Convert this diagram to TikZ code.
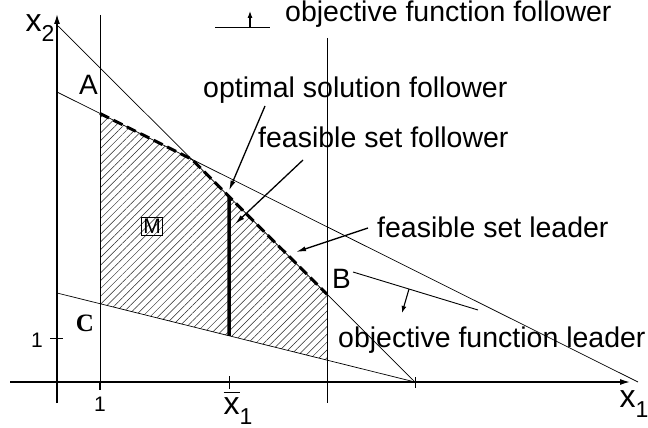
\documentclass[tikz,border=0pt]{standalone}
\usepackage{fontspec}
\setmainfont{Liberation Sans}
\newfontfamily\serifont{Liberation Serif}
\usepackage{tikz}
\usetikzlibrary{
    arrows.meta,
    calc,
    patterns.meta
}
\tikzset
{
  thinline/.style={draw=black,line width=0.7pt},
  axisline/.style={draw=black,line width=1.4pt,-{Latex[length=10pt,width=6pt]}},
  pointer/.style={draw=black,line width=1.3pt,-{Latex[length=10pt,width=5pt]}},
  smallpointer/.style={draw=black,line width=1.1pt,-{Latex[length=7pt,width=5pt]}},
  bigtext/.style={font=\fontsize{28.5}{30}\selectfont,inner sep=0pt,anchor=base west},
  pointtext/.style={font=\fontsize{28}{30}\selectfont,inner sep=0pt,anchor=base west},
  ticktext/.style={font=\fontsize{21}{23}\selectfont,inner sep=0pt},
  varsub/.style={font=\fontsize{32}{34}\selectfont,inner sep=0pt}
}
\newcommand{\lowsub}[1]{\raisebox{-0.3em}{\fontsize{23}{25}\selectfont #1}}
\newcommand{\barx}{\makebox[0pt][l]{\raisebox{0.68em}{\rule{0.5em}{1.3pt}}}x}

\begin{document}
\begin{tikzpicture}[x=1pt,y=-1pt]

    % Fix the page to the size of the picture
    \useasboundingbox (0,0) rectangle (648,428);

    % Define the positions of the vertical lines
    \pgfmathsetmacro{\xone}{100}   % x_1 = 1
    \pgfmathsetmacro{\xbar}{229}   % the fixed leader decision
    \pgfmathsetmacro{\xright}{327} % right bound of the leader set

    % The three constraint lines
    \coordinate (L1s) at (57,25);  \coordinate (L1e) at (415,382);
    \coordinate (L2s) at (57,92);  \coordinate (L2e) at (638,382);
    \coordinate (L3s) at (57,293); \coordinate (L3e) at (415,382);

    % Corners of the feasible set
    \coordinate (A) at (intersection of L2s--L2e and \xone,0--\xone,400);
    \coordinate (I) at (intersection of L1s--L1e and L2s--L2e);
    \coordinate (B) at (intersection of L1s--L1e and \xright,0--\xright,400);
    \coordinate (D) at (intersection of L3s--L3e and \xright,0--\xright,400);
    \coordinate (E) at (intersection of L3s--L3e and \xone,0--\xone,400);
    \coordinate (Xt) at (intersection of L1s--L1e and \xbar,0--\xbar,400);
    \coordinate (Xb) at (intersection of L3s--L3e and \xbar,0--\xbar,400);

    % Hatch the feasible set
    \fill[pattern={Lines[angle=45,distance=5.5pt,line width=0.5pt]},pattern color=black!85]
        (A) -- (I) -- (B) -- (D) -- (E) -- cycle;

    % Draw the axes
    \draw[axisline] (10,382) -- (630,382);
    \draw[axisline] (57,403) -- (57,14);

    % Draw the vertical lines
    \draw[thinline] (\xone,15) -- (\xone,382);
    \draw[thinline] (\xright,38) -- (\xright,403);

    % Draw the constraint lines
    \draw[thinline] (L1s) -- (L1e);
    \draw[thinline] (L2s) -- (L2e);
    \draw[thinline] (L3s) -- (L3e);

    % Ticks
    \draw[line width=1.2pt] (\xone,382) -- (\xone,390);
    \draw[line width=0.8pt] (\xbar,376) -- (\xbar,389);
    \draw[line width=0.9pt] (415,377) -- (415,388);
    \draw[line width=0.9pt] (50,338) -- (63,338);

    % Upper boundary of the feasible set and the follower solution
    \draw[line width=3pt,dash pattern=on 10pt off 5pt] (A) -- (I) -- (B);
    \draw[line width=3.5pt] (Xt) -- (Xb);

    % Axis and tick labels
    \node[varsub] (xtwo) at (40,28) {x\lowsub{2}};
    \node[varsub] (xonelbl) at (634,404) {x\lowsub{1}};
    \node[ticktext] (tickx) at (100,404) {1};
    \node[ticktext] (ticky) at (37,340) {1};
    \node[varsub] (xbarlbl) at (238,408) {\barx\lowsub{1}};

    % Point labels
    \node[pointtext] (Alabel) at (79,94) {A};
    \node[pointtext] (Blabel) at (332,288) {B};
    \node[font=\serifont\bfseries\fontsize{25}{27}\selectfont,inner sep=0pt] (Clabel) at (85,323) {C};
    \node[draw,line width=0.8pt,font=\fontsize{21}{22}\selectfont,inner sep=1.8pt] (Mlabel) at (152,226) {M};

    % Objective function follower
    \node[bigtext] (objfol) at (285,22) {objective function follower};
    \coordinate (ofs) at (215,27);
    \coordinate (ofe) at (270,27);
    \coordinate (ofa) at (250,27);
    \coordinate (ofb) at (250,11);
    \draw[line width=0.8pt] (ofs) -- (ofe);
    \draw[smallpointer] (ofa) -- (ofb);

    % Objective function leader
    \node[bigtext] (objlead) at (338,347) {objective function leader};
    \coordinate (ols) at (353,272);
    \coordinate (ole) at (478,310);
    \coordinate (ola) at (409,289);
    \coordinate (olb) at (402,313);
    \draw[line width=0.9pt] (ols) -- (ole);
    \draw[smallpointer] (ola) -- (olb);

    % Texts with pointers
    \node[bigtext] (optfol) at (203,98) {optimal solution follower};
    \node[bigtext] (feasfol) at (258,147) {feasible set follower};
    \node[bigtext] (feaslead) at (377,237) {feasible set leader};
    \coordinate (optfrom) at (265,106);
    \coordinate (feasfrom) at (303,160);
    \coordinate (feasto) at (235,224);
    \coordinate (leadfrom) at (368,228);
    \coordinate (leadto) at (296,252);
    \draw[pointer] (optfrom) -- ($(Xt)+(0,-6)$);
    \draw[pointer] (feasfrom) -- (feasto);
    \draw[pointer] (leadfrom) -- (leadto);

\end{tikzpicture}
\end{document}
